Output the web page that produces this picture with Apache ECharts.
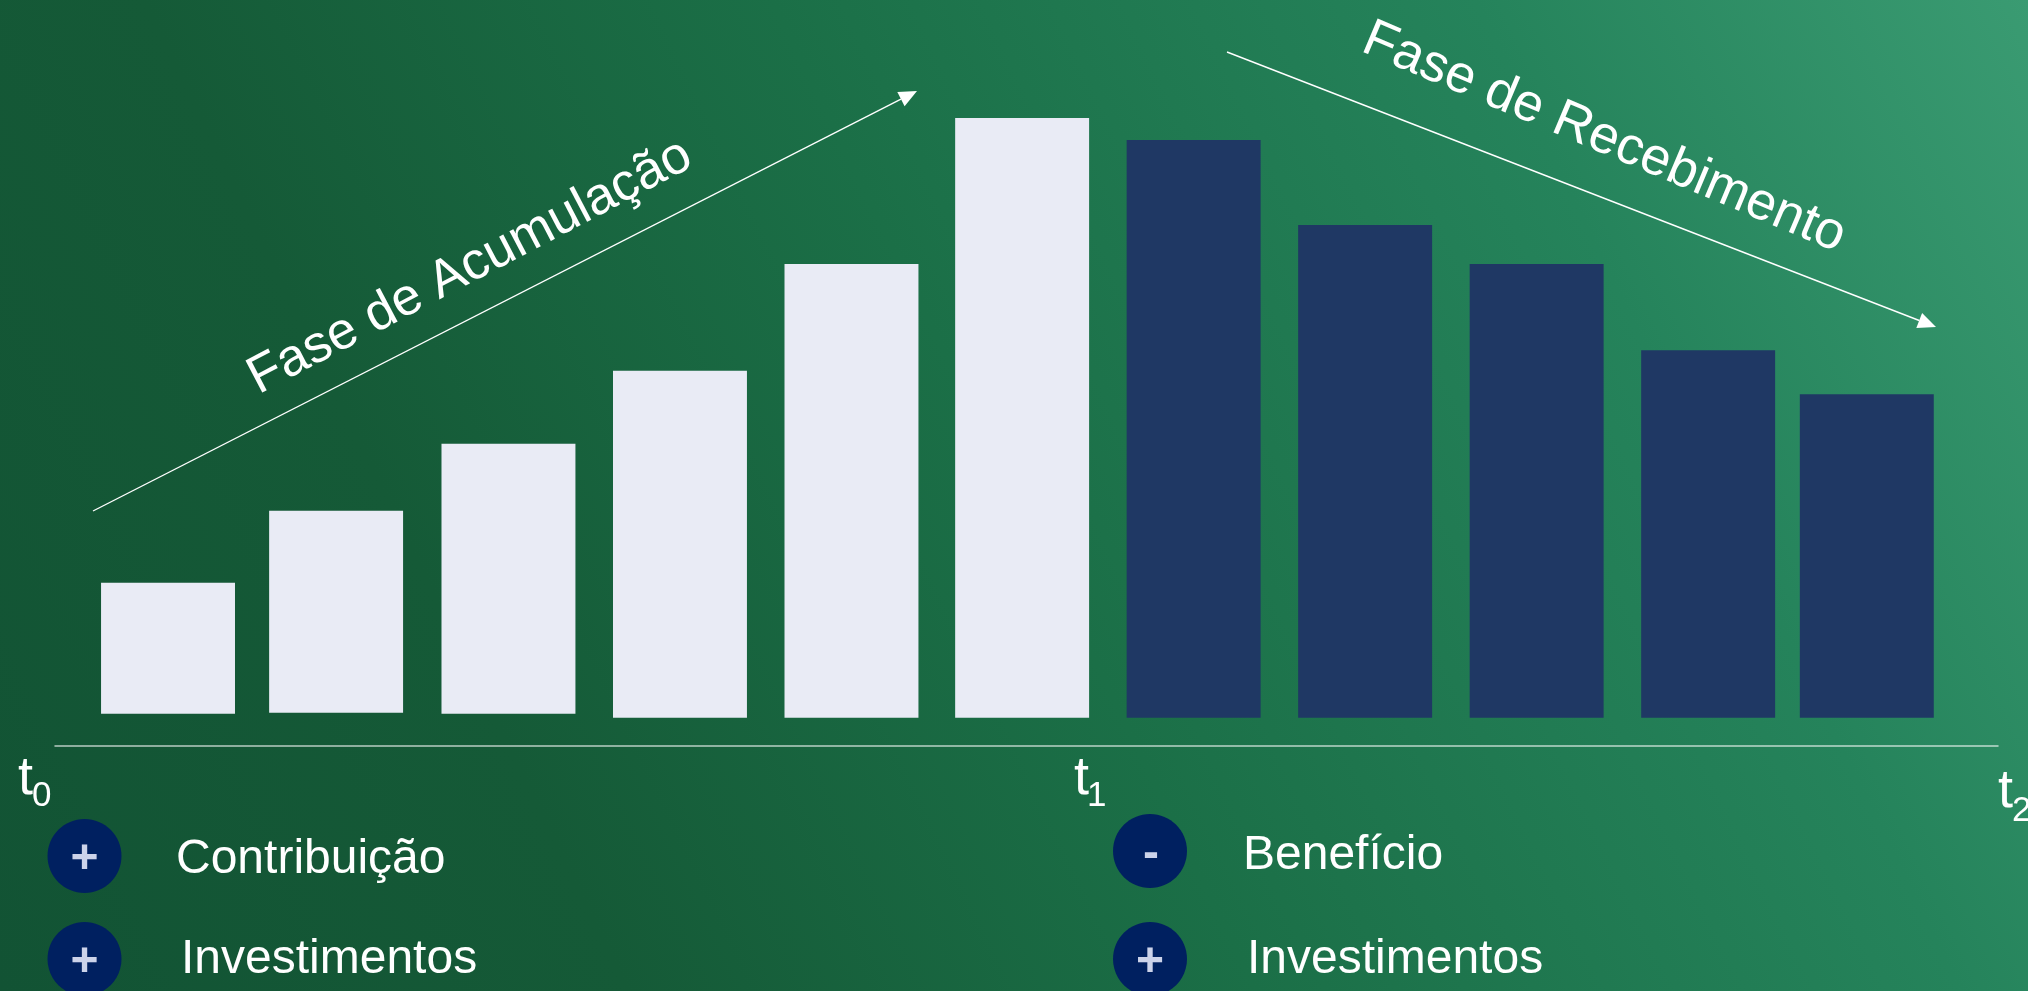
<!DOCTYPE html>
<html><head><meta charset="utf-8">
<style>html,body{margin:0;padding:0;width:100%;height:100%;overflow:hidden;background:#1b734c}#c{width:2028px;height:991px}</style>
<script src="https://cdn.jsdelivr.net/npm/echarts@6/dist/echarts.min.js"></script>
</head><body><div id="c"></div>
<script>
const periods = [1, 1.98, 2.985, 3.985, 4.985, 5.98, 6.98, 7.98, 8.98, 9.98, 10.905];
const lift = [4, 5, 4, 0, 0, 0, 0, 0, 0, 0, 0];
const values = [131, 202, 270, 347, 454, 600, 578, 493, 454, 367.5, 323.5];
const phases = ['a','a','a','a','a','a','r','r','r','r','r'];
const phaseColors = {a:'#e9ebf5', r:'#1f3864'};
const tickLabels = [['t','0'],['t','1'],['t','2']];
const phaseTitles = ['Fase de Acumulação','Fase de Recebimento'];
const legendLeft = [['+','Contribuição'],['+','Investimentos']];
const legendRight = [['-','Benefício'],['+','Investimentos']];

const font = '"Liberation Sans", Arial, sans-serif';
const txt = (x,y,text,size,extra={},rotation=0) => ({type:'text',x,y,rotation,silent:true,style:Object.assign({text,fontSize:size,fontFamily:font,fill:'#fff',align:'left',verticalAlign:'bottom'},extra)});
function arrow(x0,y0,x1,y1){
  const a=Math.atan2(y1-y0,x1-x0), L=18, W=8;
  const bx=x1-L*Math.cos(a), by=y1-L*Math.sin(a), nx=-Math.sin(a), ny=Math.cos(a);
  return [
    {type:'line',silent:true,shape:{x1:x0,y1:y0,x2:bx,y2:by},style:{stroke:'#fff',lineWidth:1.4}},
    {type:'polygon',silent:true,shape:{points:[[x1,y1],[bx+nx*W,by+ny*W],[bx-nx*W,by-ny*W]]},style:{fill:'#fff'}}
  ];
}
const badge=(cx,cy,rx,ry,sym,sx,sy)=>[
  {type:'ellipse',silent:true,shape:{cx,cy,rx,ry},style:{fill:'#002060'}},
  txt(sx,sy,sym,48,{fill:'#ccd3ea',fontWeight:'bold',align:'center',verticalAlign:'middle'})
];
const graphic=[
  ...arrow(93,511,917,91),
  ...arrow(1227,52,1936,327),
  txt(470,267,phaseTitles[0],52.5,{align:'center',verticalAlign:'middle'},27.7*Math.PI/180),
  txt(1604,138,phaseTitles[1],53,{align:'center',verticalAlign:'middle'},-22.9*Math.PI/180),
  ...badge(84.5,856,37,37,legendLeft[0][0],84.5,860),
  ...badge(84.5,959,37,37,legendLeft[1][0],84.5,963),
  ...badge(1150,851,37,37,legendRight[0][0],1151,855),
  ...badge(1150,959,37,37,legendRight[1][0],1150,963),
  txt(176,884,legendLeft[0][1],48),
  txt(181,984,legendLeft[1][1],48),
  txt(1243,880,legendRight[0][1],48),
  txt(1247,984,legendRight[1][1],48),
  txt(18,806,tickLabels[0][0],54), txt(32,814,tickLabels[0][1],35),
  txt(1074,806,tickLabels[1][0],54), txt(1087,814,tickLabels[1][1],35),
  txt(1998,819,tickLabels[2][0],54), txt(2012,829,tickLabels[2][1],35)
];
const chart=echarts.init(document.getElementById('c'),null,{renderer:'canvas'});
chart.setOption({
  animation:false,
  backgroundColor:new echarts.graphic.LinearGradient(0,1,1,0,[
    {offset:0,color:'#125334'},{offset:0.25,color:'#155a37'},{offset:0.5,color:'#1b6f47'},
    {offset:0.78,color:'#25835b'},{offset:1,color:'#3a9b72'}]),
  grid:{left:55,right:30,top:0,bottom:245.3},
  xAxis:{type:'value',min:0.341,max:11.67,axisLine:{show:true,onZero:false,lineStyle:{color:'rgba(255,255,255,0.7)',width:1.5}},axisTick:{show:false},axisLabel:{show:false},splitLine:{show:false}},
  yAxis:{type:'value',min:-28,max:718,show:false,splitLine:{show:false}},
  series:[{
    type:'custom',name:'valor',silent:true,clip:false,
    encode:{x:0,y:[1,2]},
    data:values.map((v,i)=>[periods[i],lift[i],lift[i]+v,phases[i]==='a'?0:1]),
    renderItem:(params,api)=>{
      const w=api.size([0.781,0])[0];
      const p0=api.coord([api.value(0),api.value(1)]), p1=api.coord([api.value(0),api.value(2)]);
      return {type:'rect',shape:{x:p0[0]-w/2,y:p1[1],width:w,height:p0[1]-p1[1]},
        style:{fill:api.value(3)===0?phaseColors.a:phaseColors.r}};
    }
  }],
  graphic:{elements:graphic}
});
</script></body></html>
